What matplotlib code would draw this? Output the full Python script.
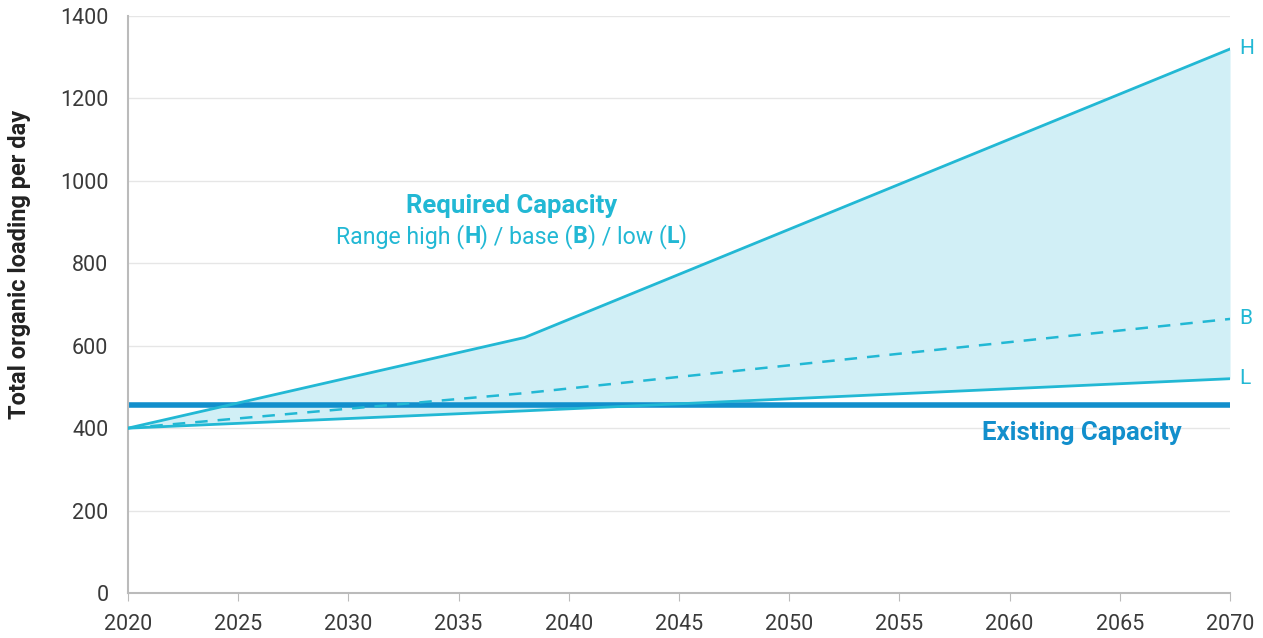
import matplotlib.pyplot as plt

plt.rcParams['font.family'] = ['Roboto', 'DejaVu Sans']

years = [2020, 2038, 2070]
high = [400, 620, 1320]
base = [400, 485, 665]
low = [400, 442, 520]
existing = 457
x_ticks = list(range(2020, 2075, 5))
y_ticks = list(range(0, 1600, 200))

cyan = '#22b8d4'
fill_col = '#d1eff6'
blue = '#128fcc'
grey_txt = '#3a3a3a'

fig = plt.figure(figsize=(12.63, 6.38), dpi=100)
ax = fig.add_axes([0.1013, 0.0705, 0.8726, 0.9044])

ax.fill_between(years, low, high, color=fill_col, lw=0, zorder=1)
ax.plot(years, high, color=cyan, lw=2, zorder=3)
ax.plot(years, base, color=cyan, lw=1.8, ls=(0, (5, 4)), zorder=3)
ax.plot(years, low, color=cyan, lw=2, zorder=3)
ax.axhline(existing, color=blue, lw=4, zorder=2)

ax.set_xlim(2020, 2070)
ax.set_ylim(0, 1400)
ax.set_xticks(x_ticks)
ax.set_yticks(y_ticks)
ax.grid(axis='y', color='#e6e6e6', lw=1, zorder=0)
ax.set_axisbelow(True)
for s in ['top', 'right']:
    ax.spines[s].set_visible(False)
ax.spines['left'].set_color('#bbbbbb')
ax.spines['bottom'].set_color('#bbbbbb')
ax.spines['left'].set_linewidth(1.5)
ax.spines['bottom'].set_linewidth(1.5)
ax.tick_params(axis='y', length=0, labelsize=15.5, labelcolor=grey_txt, pad=14)
ax.tick_params(axis='x', length=6, color='#bbbbbb', labelsize=15.5, labelcolor=grey_txt, pad=9)
ax.set_ylabel('Total organic loading per day', fontsize=17, fontweight='bold',
              color='#222222')
ax.yaxis.set_label_coords(-0.088, 0.57)

for lab, vals in zip(['H', 'B', 'L'], [high, base, low]):
    ax.text(years[-1] + 0.4, vals[-1], lab, color=cyan, fontsize=15,
            ha='left', va='center')

ax.text(2037.4, 940, 'Required Capacity', color=cyan, fontsize=18.5,
        fontweight='bold', ha='center', va='center')

# second line: mixed regular / bold pieces
pieces = [('Range high (', 'normal'), ('H', 'bold'), (') / base (', 'normal'),
          ('B', 'bold'), (') / low (', 'normal'), ('L', 'bold'), (')', 'normal')]
fs_range = 16.7
fig.canvas.draw()
r = fig.canvas.get_renderer()
widths = []
for txt, w in pieces:
    t = ax.text(0, 0, txt, fontsize=fs_range, fontweight=w)
    widths.append(t.get_window_extent(r).width)
    t.remove()
total = sum(widths)
x0, y0 = ax.transData.transform((2037.4, 864))
x = x0 - total / 2
for (txt, w), wd in zip(pieces, widths):
    fig.text(x / fig.dpi / fig.get_figwidth(), y0 / fig.dpi / fig.get_figheight(), txt,
             fontsize=fs_range, fontweight=w, color=cyan, ha='left', va='center')
    x += wd

ax.text(2063.3, 388, 'Existing Capacity', color=blue, fontsize=18.5,
        fontweight='bold', ha='center', va='center')

fig.savefig('out.png', dpi=100)
